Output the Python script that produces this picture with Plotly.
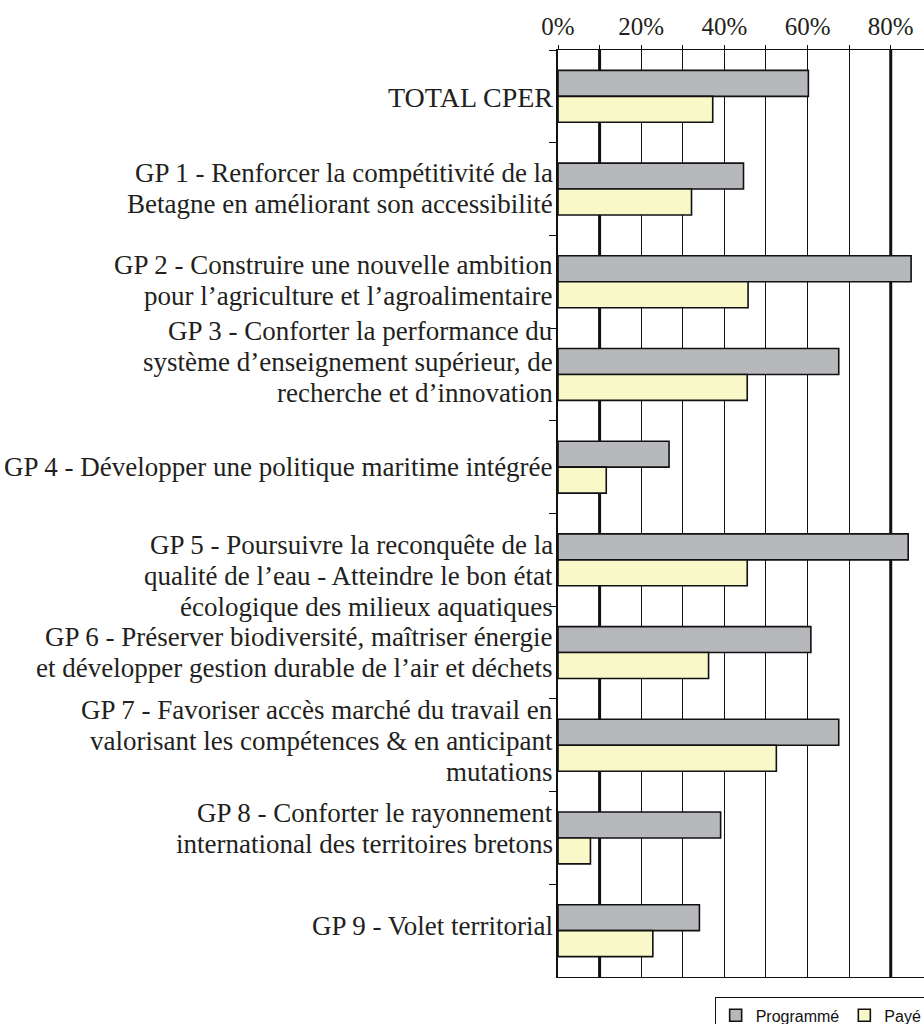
import plotly.graph_objects as go

categories = [
    "TOTAL CPER",
    "GP 1 - Renforcer la compétitivité de la<br>Betagne en améliorant son accessibilité",
    "GP 2 - Construire une nouvelle ambition<br>pour l’agriculture et l’agroalimentaire",
    "GP 3 - Conforter la performance du<br>système d’enseignement supérieur, de<br>recherche et d’innovation",
    "GP 4 - Développer une politique maritime intégrée",
    "GP 5 - Poursuivre la reconquête de la<br>qualité de l’eau - Atteindre le bon état<br>écologique des milieux aquatiques",
    "GP 6 - Préserver biodiversité, maîtriser énergie<br>et développer gestion durable de l’air et déchets",
    "GP 7 - Favoriser accès marché du travail en<br>valorisant les compétences & en anticipant<br>mutations",
    "GP 8 - Conforter le rayonnement<br>international des territoires bretons",
    "GP 9 - Volet territorial",
]
programme = [0.602, 0.446, 0.849, 0.675, 0.267, 0.842, 0.608, 0.675, 0.391, 0.340]
paye = [0.372, 0.321, 0.457, 0.455, 0.116, 0.455, 0.362, 0.525, 0.078, 0.228]
series_names = ["Programmé", "Payé"]
tick_vals = [0, 0.1, 0.2, 0.3, 0.4, 0.5, 0.6, 0.7, 0.8]
tick_text = ["0%", "", "20%", "", "40%", "", "60%", "", "80%"]

# label vertical nudges (px, positive = up)
label_shift = [-1, 1, 1, 12, 0, -16, 0, 4, 9, 5]
LINE_H = 31
TEXT_COL = "#231F20"
SERIF = "Liberation Serif"

fig = go.Figure()
fig.add_trace(go.Bar(
    y=categories, x=programme, name=series_names[0], orientation="h",
    marker=dict(color="#B7B8BC", line=dict(color="#111111", width=1.6)),
))
fig.add_trace(go.Bar(
    y=categories, x=paye, name=series_names[1], orientation="h",
    marker=dict(color="#F8F8C8", line=dict(color="#111111", width=1.6)),
))

annotations = []
for cat, sh in zip(categories, label_shift):
    lines = cat.split("<br>")
    n = len(lines)
    for i, ln in enumerate(lines):
        size = 28 if cat == "TOTAL CPER" else 27
        annotations.append(dict(
            x=0, xref="x", y=cat, yref="y", xanchor="right", yanchor="middle",
            xshift=-4, yshift=sh - (i - (n - 1) / 2) * LINE_H,
            text=ln, showarrow=False, align="right", borderpad=0,
            font=dict(family=SERIF, size=size, color=TEXT_COL),
        ))

shapes = []
for xv in (0.1, 0.8):
    shapes.append(dict(type="line", xref="x", yref="paper", x0=xv, x1=xv, y0=0, y1=1,
                       line=dict(color="#111111", width=3), layer="below"))

fig.update_layout(
    width=924, height=1024,
    margin=dict(l=558, r=0, t=50, b=47, autoexpand=False),
    paper_bgcolor="white", plot_bgcolor="white",
    barmode="group", bargap=0.44, bargroupgap=0,
    annotations=annotations, shapes=shapes,
    legend=dict(
        orientation="h", x=0.428, xanchor="left", y=-0.022, yanchor="top",
        bordercolor="#111111", borderwidth=1, bgcolor="white",
        font=dict(family="Liberation Sans", size=16, color="#111111"),
        itemwidth=30,
    ),
    showlegend=True,
)
fig.update_xaxes(
    side="top", range=[0, 0.88], tickvals=tick_vals, ticktext=tick_text,
    ticks="outside", ticklen=4, tickcolor="#111111", tickwidth=1.3,
    showgrid=True, gridcolor="#111111", gridwidth=1.3,
    showline=True, linecolor="#111111", linewidth=1.3, mirror=True,
    zeroline=False,
    tickfont=dict(family=SERIF, size=25, color=TEXT_COL),
)
fig.update_yaxes(
    autorange="reversed", showticklabels=False, tickson="boundaries",
    ticks="outside", ticklen=7, tickcolor="#111111", tickwidth=1.3,
    showgrid=False, showline=True, linecolor="#111111", linewidth=1.5,
)

fig.write_html(
    "out.html",
    config={"displayModeBar": False},
    post_script="document.body.style.margin='0';document.body.style.overflow='hidden';",
)
